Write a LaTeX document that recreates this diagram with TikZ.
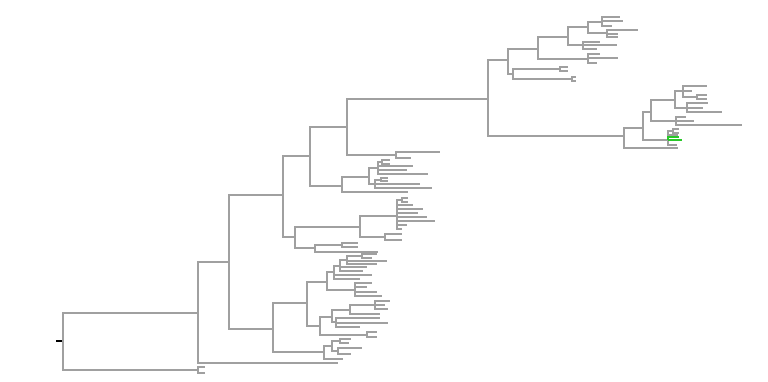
\documentclass[tikz,border=0pt]{standalone}
\usepackage{tikz}
\usetikzlibrary{calc}
\definecolor{treegray}{RGB}{160,160,160}
\definecolor{hitgreen}{RGB}{40,200,40}
\newcommand{\tips}[2]{\foreach \tx/\ty [count=\k] in {#2} {\coordinate (#1-t\k) at (\tx,\ty); \draw[branch] (#1) |- (#1-t\k);}}
\newcommand{\kids}[2]{\foreach \c in {#2} \draw[branch] (#1) |- (\c);}

\begin{document}
\begin{tikzpicture}[
    x=1pt, y=-1pt,
    branch/.style={draw=treegray, line width=2.4pt, line join=miter},
    hitbranch/.style={draw=hitgreen, line width=2.4pt, line join=miter},
    rootstub/.style={draw=black, line width=2.2pt}
]
    \useasboundingbox (0,0) rectangle (768,381);
    % spine
    \coordinate (root) at (63,341);
    \coordinate (stub) at (56,341);
    \coordinate (n1) at (198,313);
    \coordinate (q) at (198,370);
    \coordinate (l1) at (338,363);
    \coordinate (n2) at (229,262);
    \coordinate (n3) at (283,195);
    \coordinate (n4) at (273,329);
    \coordinate (n5) at (310,156);
    \coordinate (n6) at (295,237);
    \coordinate (n7) at (347,127);
    \coordinate (n7b) at (396,155);
    \coordinate (n8) at (342,186);
    \coordinate (l8) at (408,192);
    \coordinate (n9) at (488,99);
    \coordinate (n10) at (369,177);
    \coordinate (n11) at (378,168);
    \coordinate (c11) at (382,162);
    \coordinate (n12) at (375,184);
    \coordinate (c12) at (381,180);
    \coordinate (n13) at (360,227);
    \coordinate (n14) at (315,248);
    \coordinate (c14) at (342,245);
    \coordinate (n15) at (397,216);
    \coordinate (c15) at (402,200);
    \coordinate (n16) at (385,237);
    \coordinate (n17) at (307,303);
    \coordinate (n18) at (324,352);
    \coordinate (n18a) at (332,346);
    \coordinate (n18b) at (340,341);
    \coordinate (n18c) at (338,351);
    \coordinate (n19) at (327,282);
    \coordinate (n19a) at (334,272);
    \coordinate (n19b) at (355,290);
    \coordinate (n19c) at (340,266);
    \coordinate (n19d) at (347,260);
    \coordinate (c19) at (362,256);
    \coordinate (n20) at (320,326);
    \coordinate (c20) at (367,335);
    \coordinate (n21) at (332,317);
    \coordinate (n22) at (350,310);
    \coordinate (c22) at (375,305);
    \coordinate (n23) at (336,322);
    % upper right part
    \coordinate (n24) at (508,60);
    \coordinate (n25) at (624,136);
    \coordinate (n26) at (538,49);
    \coordinate (n27) at (513,74);
    \coordinate (c27a) at (560,69);
    \coordinate (c27b) at (572,79);
    \coordinate (n28) at (568,37);
    \coordinate (n29) at (588,59);
    \coordinate (n30) at (588,27);
    \coordinate (n31) at (583,45);
    \coordinate (n32) at (602,22);
    \coordinate (n33) at (607,33);
    \coordinate (l25) at (678,148);
    \coordinate (n34) at (643,128);
    \coordinate (n35) at (651,112);
    \coordinate (n36) at (668,140);
    \coordinate (c36) at (673,131);
    \coordinate (n37) at (675,100);
    \coordinate (n38) at (683,91);
    \coordinate (c38) at (697,97);
    \coordinate (n39) at (687,108);
    \coordinate (n40) at (676,121);

    \draw[rootstub] (stub) -- (root);
    \kids{root}{n1,q}
    \tips{q}{205/367, 205/373}
    \kids{n1}{n2,l1}
    \kids{n2}{n3,n4}
    \kids{n3}{n5,n6}
    \kids{n5}{n7,n8}
    \kids{n7}{n9,n7b}
    \tips{n7b}{440/152, 411/158}
    \kids{n8}{n10,l8}
    \kids{n10}{n11,n12}
    \kids{n11}{c11}
    \tips{c11}{390/160, 390/164}
    \tips{n11}{413/166, 407/170, 428/174}
    \kids{n12}{c12}
    \tips{c12}{388/178, 388/181}
    \tips{n12}{420/184, 432/188}
    \kids{n6}{n13,n14}
    \kids{n13}{n15,n16}
    \kids{n15}{c15}
    \tips{c15}{408/198, 408/202}
    \tips{n15}{413/205, 423/209, 418/213, 427/217, 435/221, 407/225, 402/229}
    \tips{n16}{402/234, 402/240}
    \kids{n14}{c14}
    \tips{c14}{358/243, 358/247}
    \tips{n14}{378/252}
    \kids{n4}{n17,n18}
    \kids{n17}{n19,n20}
    \kids{n19}{n19a,n19b}
    \kids{n19a}{n19c}
    \tips{n19a}{372/275, 360/279}
    \kids{n19c}{n19d}
    \tips{n19c}{367/267, 363/271}
    \kids{n19d}{c19}
    \tips{c19}{377/254, 372/258}
    \tips{n19d}{387/261, 377/264}
    \tips{n19b}{372/283, 367/287, 377/292, 382/296}
    \kids{n20}{n21,c20}
    \tips{c20}{377/332, 377/337}
    \kids{n21}{n22,n23}
    \kids{n22}{c22}
    \tips{c22}{390/301, 385/305, 388/309}
    \tips{n22}{380/314}
    \tips{n23}{380/318, 388/323, 360/327}
    \kids{n18}{n18a}
    \tips{n18}{343/359}
    \kids{n18a}{n18b,n18c}
    \tips{n18b}{351/339, 349/343}
    \tips{n18c}{362/348, 351/354}
    % top clade
    \kids{n9}{n24,n25}
    \kids{n24}{n26,n27}
    \kids{n26}{n28,n29}
    \kids{n28}{n30,n31}
    \kids{n30}{n32,n33}
    \tips{n32}{620/17, 623/21, 612/26}
    \tips{n33}{638/30, 618/34, 618/37}
    \tips{n31}{600/42, 617/45, 597/49}
    \tips{n29}{600/54, 618/58, 597/63}
    \kids{n27}{c27a,c27b}
    \tips{c27a}{568/67, 568/71}
    \tips{c27b}{576/77, 576/81}
    \kids{n25}{n34,l25}
    \kids{n34}{n35,n36}
    \kids{n35}{n37,n40}
    \kids{n37}{n38,n39}
    \tips{n38}{707/86, 692/91}
    \kids{n38}{c38}
    \tips{c38}{707/95, 707/99}
    \tips{n39}{708/103, 703/108, 722/112}
    \tips{n40}{686/117, 694/121, 742/125}
    \kids{n36}{c36}
    \tips{c36}{679/129, 679/133}
    \tips{n36}{678/135, 677/145}
    \coordinate (g1) at (679,137);
    \coordinate (g2) at (682,140);
    \draw[hitbranch] (n36) |- (g1);
    \draw[hitbranch] (n36) |- (g2);
\end{tikzpicture}
\end{document}
